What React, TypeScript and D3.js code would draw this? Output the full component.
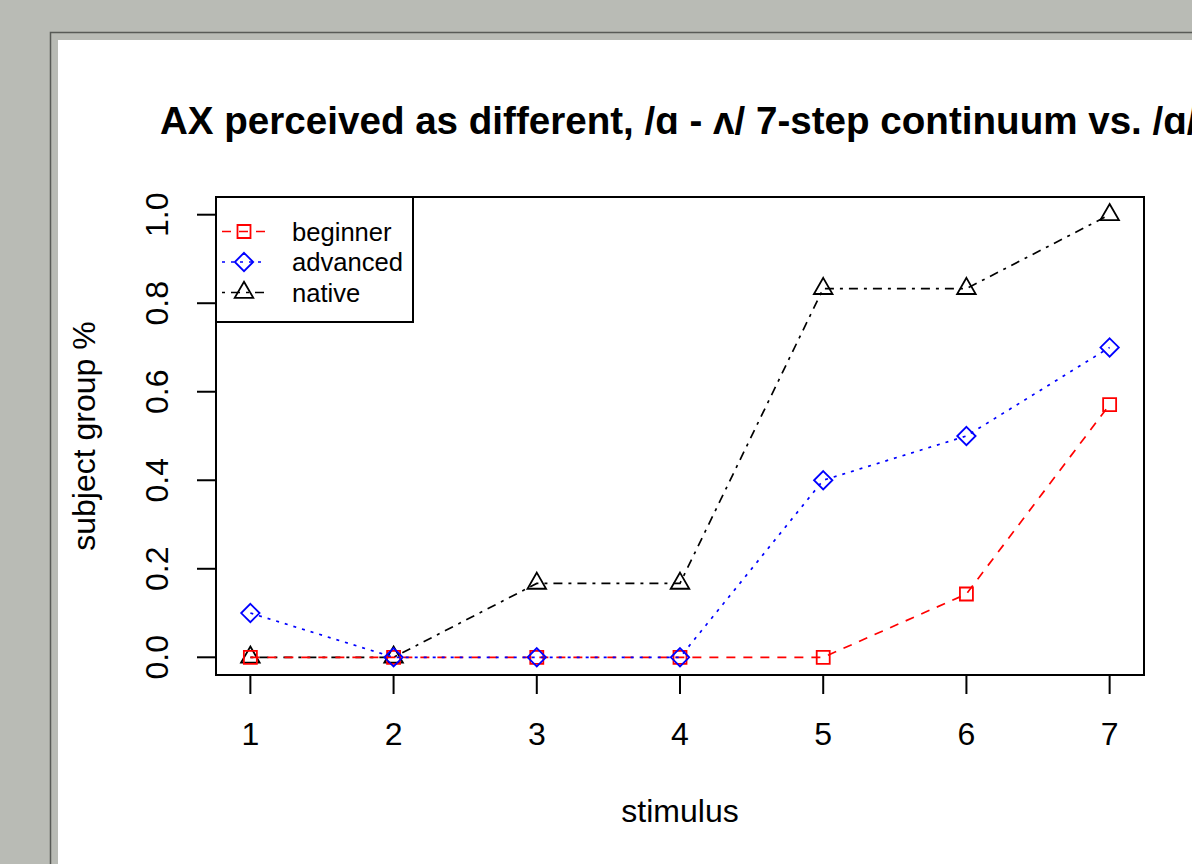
import { useEffect, useRef } from 'react';
import * as d3 from 'd3';

// chart data
const stimuli = [1, 2, 3, 4, 5, 6, 7];
const beginner = [0, 0, 0, 0, 0, 0.143, 0.571];
const advanced = [0.1, 0, 0, 0, 0.4, 0.5, 0.7];
const native = [0, 0, 0.167, 0.167, 0.833, 0.833, 1.0];
const yTicks = [0, 0.2, 0.4, 0.6, 0.8, 1.0];
const legendNames = ['beginner', 'advanced', 'native'];

const FONT = '"Liberation Sans", Arial, "DejaVu Sans", sans-serif';

// R-ish point symbols
const R = 6.5;
const squarePath = (x: number, y: number) =>
  `M${x - R},${y - R}H${x + R}V${y + R}H${x - R}Z`;
const diamondPath = (x: number, y: number) => {
  const d = Math.SQRT2 * R;
  return `M${x},${y - d}L${x + d},${y}L${x},${y + d}L${x - d},${y}Z`;
};
const trianglePath = (x: number, y: number) => {
  const r = 1.65 * R;
  const xc = (r * Math.sqrt(3)) / 2;
  return `M${x},${y - r}L${x + xc},${y + r / 2}L${x - xc},${y + r / 2}Z`;
};

const App = () => {
  const ref = useRef<SVGSVGElement>(null);

  useEffect(() => {
    const svg = d3.select(ref.current);
    svg.selectAll('*').remove();

    const W = 1192;
    const H = 864;

    // window background and frame
    svg.append('rect').attr('width', W).attr('height', H).attr('fill', '#b9bbb5');
    svg.append('path')
      .attr('d', `M50.5,${H}V32.5H${W}`)
      .attr('fill', 'none')
      .attr('stroke', '#585a56')
      .attr('stroke-width', 1.5);
    svg.append('rect').attr('x', 58).attr('y', 40).attr('width', W - 58).attr('height', H - 40).attr('fill', '#fff');

    const plot = { left: 216, right: 1144, top: 197, bottom: 675 };

    const x = d3.scaleLinear().domain([0.76, 7.24]).range([plot.left, plot.right]);
    const y = d3.scaleLinear().domain([-0.04, 1.04]).range([plot.bottom, plot.top]);

    // title (runs off the right edge, as in the screenshot)
    svg.append('text')
      .attr('x', 160)
      .attr('y', 134)
      .attr('font-family', FONT)
      .attr('font-weight', 'bold')
      .attr('font-size', 38.6)
      .attr('fill', '#000')
      .text('AX perceived as different, /ɑ - ʌ/ 7-step continuum vs. /ɑ/');

    // series
    const series = [
      { values: native, color: '#000000', dash: '3,6,9,6', shape: trianglePath },
      { values: beginner, color: '#ff0000', dash: '9,8', shape: squarePath },
      { values: advanced, color: '#0000ff', dash: '3,6', shape: diamondPath },
    ];

    const line = d3.line<number>()
      .x((d, i) => x(stimuli[i]))
      .y(d => y(d));

    series.forEach(s => {
      svg.append('path')
        .datum(s.values)
        .attr('fill', 'none')
        .attr('stroke', s.color)
        .attr('stroke-width', 1.7)
        .attr('stroke-dasharray', s.dash)
        .attr('d', line);

      svg.append('g')
        .selectAll('path')
        .data(s.values)
        .join('path')
        .attr('d', (d, i) => s.shape(x(stimuli[i]), y(d)))
        .attr('fill', 'none')
        .attr('stroke', s.color)
        .attr('stroke-width', 1.8);
    });

    // plot box
    svg.append('rect')
      .attr('x', plot.left)
      .attr('y', plot.top)
      .attr('width', plot.right - plot.left)
      .attr('height', plot.bottom - plot.top)
      .attr('fill', 'none')
      .attr('stroke', '#000')
      .attr('stroke-width', 2);

    // x axis
    const xAxis = svg.append('g');
    xAxis.selectAll('line')
      .data(stimuli)
      .join('line')
      .attr('x1', d => x(d)).attr('x2', d => x(d))
      .attr('y1', plot.bottom).attr('y2', plot.bottom + 19)
      .attr('stroke', '#000').attr('stroke-width', 2);
    xAxis.selectAll('text')
      .data(stimuli)
      .join('text')
      .attr('x', d => x(d))
      .attr('y', 745)
      .attr('text-anchor', 'middle')
      .attr('font-family', FONT)
      .attr('font-size', 32)
      .text(d => d);

    // y axis
    const yAxis = svg.append('g');
    yAxis.selectAll('line')
      .data(yTicks)
      .join('line')
      .attr('x1', plot.left - 19).attr('x2', plot.left)
      .attr('y1', d => y(d)).attr('y2', d => y(d))
      .attr('stroke', '#000').attr('stroke-width', 2);
    yAxis.selectAll('text')
      .data(yTicks)
      .join('text')
      .attr('transform', d => `translate(168,${y(d)}) rotate(-90)`)
      .attr('text-anchor', 'middle')
      .attr('font-family', FONT)
      .attr('font-size', 32)
      .text(d => d.toFixed(1));

    // axis titles
    svg.append('text')
      .attr('x', (plot.left + plot.right) / 2)
      .attr('y', 822)
      .attr('text-anchor', 'middle')
      .attr('font-family', FONT)
      .attr('font-size', 32)
      .text('stimulus');
    svg.append('text')
      .attr('transform', `translate(95,${(plot.top + plot.bottom) / 2}) rotate(-90)`)
      .attr('text-anchor', 'middle')
      .attr('font-family', FONT)
      .attr('font-size', 32)
      .text('subject group %');

    // legend
    const legend = svg.append('g');
    legend.append('rect')
      .attr('x', plot.left).attr('y', plot.top)
      .attr('width', 197).attr('height', 125)
      .attr('fill', '#fff')
      .attr('stroke', '#000').attr('stroke-width', 2);
    const legendItems = [
      { name: legendNames[0], color: '#ff0000', dash: '9,8', shape: squarePath },
      { name: legendNames[1], color: '#0000ff', dash: '3,6', shape: diamondPath },
      { name: legendNames[2], color: '#000000', dash: '3,6,9,6', shape: trianglePath },
    ];
    legendItems.forEach((item, i) => {
      const ry = 231.5 + i * 30.5;
      legend.append('line')
        .attr('x1', 222).attr('x2', 266)
        .attr('y1', ry).attr('y2', ry)
        .attr('stroke', item.color).attr('stroke-width', 1.7)
        .attr('stroke-dasharray', item.dash);
      legend.append('path')
        .attr('d', item.shape(244, ry))
        .attr('fill', 'none')
        .attr('stroke', item.color).attr('stroke-width', 1.8);
      legend.append('text')
        .attr('x', 292)
        .attr('y', ry + 9)
        .attr('font-family', FONT)
        .attr('font-size', 25.6)
        .text(item.name);
    });
  }, []);

  return (
    <svg
      ref={ref}
      width={1192}
      height={864}
      style={{ position: 'absolute', left: 0, top: 0, display: 'block' }}
    />
  );
};

export default App;
